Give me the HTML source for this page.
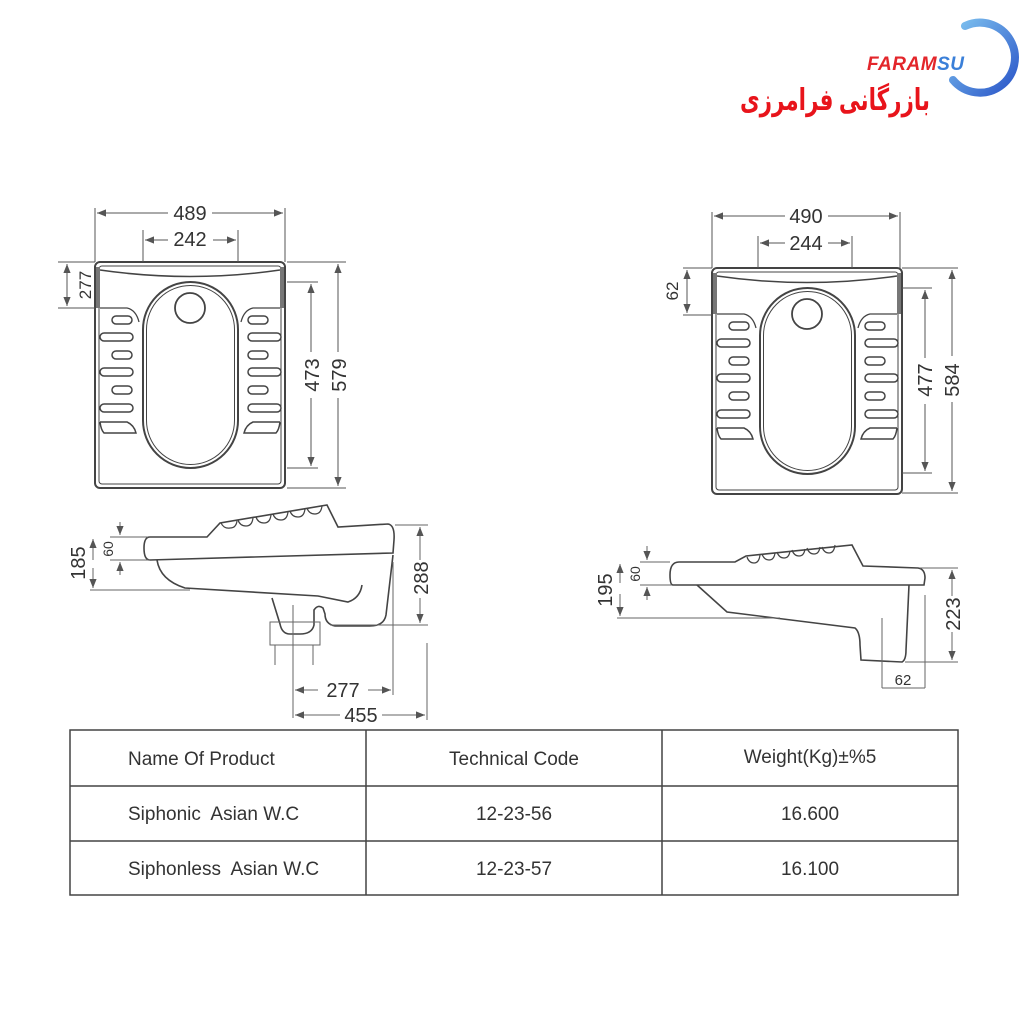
<!DOCTYPE html>
<html><head><meta charset="utf-8"><style>
html,body{margin:0;padding:0;background:#fff;}
svg{display:block}
text{font-family:"Liberation Sans",Arial,sans-serif;fill:#333}
</style></head><body>
<svg width="1024" height="1024" viewBox="0 0 1024 1024" xmlns="http://www.w3.org/2000/svg">
<defs>
<marker id="a" viewBox="0 0 10 10" refX="10" refY="5" markerWidth="9" markerHeight="9" orient="auto-start-reverse" markerUnits="userSpaceOnUse"><path d="M0 1 L10 5 L0 9 Z" fill="#555"/></marker>
<linearGradient id="bl" x1="0" y1="0" x2="1" y2="1"><stop offset="0" stop-color="#7fc3f0"/><stop offset="1" stop-color="#2a55c8"/></linearGradient>
<g id="top" fill="none" stroke="#444">
<rect x="95" y="262" width="190" height="226" rx="5" stroke-width="2"/>
<rect x="99" y="266" width="182" height="218" rx="3" stroke-width="1"/>
<path d="M100 270 Q190 283 280 270" stroke-width="1.5"/>
<rect x="96" y="267" width="4" height="41" fill="#777" stroke="none"/>
<rect x="280" y="267" width="4" height="41" fill="#777" stroke="none"/>
<path d="M100 308 L127 308 Q136 310 139 322" stroke-width="1.3"/>
<path d="M280 308 L253 308 Q244 310 241 322" stroke-width="1.3"/>
<rect x="143" y="282" width="95" height="186" rx="47.5" stroke-width="2"/>
<rect x="146.5" y="285.5" width="88" height="179" rx="44" stroke-width="1"/>
<circle cx="190" cy="308" r="15" stroke-width="1.8"/>
<g stroke-width="1.5">
<rect x="112" y="316" width="20" height="8" rx="4"/><rect x="100" y="333" width="33" height="8" rx="4"/>
<rect x="112" y="351" width="20" height="8" rx="4"/><rect x="100" y="368" width="33" height="8" rx="4"/>
<rect x="112" y="386" width="20" height="8" rx="4"/><rect x="100" y="404" width="33" height="8" rx="4"/>
<rect x="248" y="316" width="20" height="8" rx="4"/><rect x="248" y="333" width="33" height="8" rx="4"/>
<rect x="248" y="351" width="20" height="8" rx="4"/><rect x="248" y="368" width="33" height="8" rx="4"/>
<rect x="248" y="386" width="20" height="8" rx="4"/><rect x="248" y="404" width="33" height="8" rx="4"/>
<path d="M100 422 L127 422 Q134 425 136 433 L104 433 Q101 430 100 422"/>
<path d="M280 422 L253 422 Q246 425 244 433 L276 433 Q279 430 280 422"/>
</g>
</g>
</defs>

<!-- logo -->
<path d="M965 26 A35 35 0 1 1 953 80" fill="none" stroke="url(#bl)" stroke-width="8" stroke-linecap="round"/>
<text x="867" y="70" font-size="19" font-weight="bold" font-style="italic" style="fill:#e3262b;letter-spacing:0.5px">FARAM<tspan style="fill:#3a7fd8">SU</tspan></text>
<text x="740" y="110" font-size="30" font-weight="bold" textLength="190" lengthAdjust="spacingAndGlyphs" style="fill:#e8141b;font-family:'Liberation Serif','DejaVu Sans',serif">بازرگانی فرامرزی</text>

<!-- left top view -->
<use href="#top"/>
<g stroke="#555" stroke-width="1" fill="none">
<path d="M95 208 V262 M285 208 V262 M143 230 V262 M238 230 V262"/>
<path d="M168 213 H97" marker-end="url(#a)"/><path d="M212 213 H283" marker-end="url(#a)"/>
<path d="M168 240 H145" marker-end="url(#a)"/><path d="M213 240 H236" marker-end="url(#a)"/>
<path d="M58 262 H95 M58 308 H95"/>
<path d="M67 285 V264" marker-end="url(#a)"/><path d="M67 285 V306" marker-end="url(#a)"/>
<path d="M287 282 H318 M287 468 H318 M287 262 H346 M287 488 H346"/>
<path d="M311 352 V284" marker-end="url(#a)"/><path d="M311 398 V466" marker-end="url(#a)"/>
<path d="M338 352 V264" marker-end="url(#a)"/><path d="M338 398 V486" marker-end="url(#a)"/>
</g>
<g font-size="20" text-anchor="middle">
<text x="190" y="220">489</text><text x="190" y="246">242</text>
<text transform="translate(91,285) rotate(-90)" font-size="17">277</text>
<text transform="translate(319,375) rotate(-90)">473</text>
<text transform="translate(346,375) rotate(-90)">579</text>
</g>

<!-- right top view -->
<use href="#top" transform="translate(617,6)"/>
<g stroke="#555" stroke-width="1" fill="none">
<path d="M712 212 V268 M900 212 V268 M758 236 V268 M852 236 V268"/>
<path d="M785 216 H714" marker-end="url(#a)"/><path d="M828 216 H898" marker-end="url(#a)"/>
<path d="M785 243 H760" marker-end="url(#a)"/><path d="M828 243 H850" marker-end="url(#a)"/>
<path d="M683 268 H712 M683 315 H712"/>
<path d="M687 291 V270" marker-end="url(#a)"/><path d="M687 291 V313" marker-end="url(#a)"/>
<path d="M902 288 H932 M902 473 H932 M902 268 H958 M902 493 H958"/>
<path d="M925 358 V290" marker-end="url(#a)"/><path d="M925 404 V471" marker-end="url(#a)"/>
<path d="M952 356 V270" marker-end="url(#a)"/><path d="M952 402 V491" marker-end="url(#a)"/>
</g>
<g font-size="20" text-anchor="middle">
<text x="806" y="223">490</text><text x="806" y="250">244</text>
<text transform="translate(678,291) rotate(-90)" font-size="17">62</text>
<text transform="translate(932,380) rotate(-90)">477</text>
<text transform="translate(959,380) rotate(-90)">584</text>
</g>

<!-- left side view -->
<g fill="none" stroke="#444" stroke-width="1.6">
<path d="M150 537 L207 537 L220 523 L327 505 L338 527 L388 524 Q395 525 394 540 L393 553 L150 560 Q144 560 144 548 Q144 537 150 537 Z"/>
<path d="M157 560 Q160 580 185 588 L318 596 L348 602 Q360 598 362 585"/>
<path d="M393 555 L386 615 Q384 626 370 626 L335 626 Q325 624 325 614 L323 608 Q318 604 314 610 L314 625 Q312 634 300 634 L290 634 Q282 634 280 624 L272 598"/>
<path d="M221 523 Q224 529 230 528 Q236 528 237 521 M238 520 Q240 526 246 526 Q252 526 253 518 M256 517 Q258 523 264 523 Q270 523 271 515 M273 514 Q275 520 281 520 Q287 520 288 512 M290 511 Q292 517 298 517 Q304 517 305 509 M307 508 Q309 514 315 514 Q321 514 322 506" stroke-width="1.2"/>
</g>
<g stroke="#666" stroke-width="1" fill="none">
<rect x="270" y="622" width="50" height="23"/>
<path d="M275 645 V665 M313 645 V665 M293 605 V718"/>
<path d="M110 537 H148 M110 560 H150 M90 590 H190 M395 525 H428 M330 625 H428 M393 562 V695 M427 643 V720"/>
<path d="M120 522 V535" marker-end="url(#a)"/><path d="M120 575 V562" marker-end="url(#a)"/>
<path d="M93 560 V539" marker-end="url(#a)"/><path d="M93 568 V588" marker-end="url(#a)"/>
<path d="M420 560 V527" marker-end="url(#a)"/><path d="M420 598 V623" marker-end="url(#a)"/>
<path d="M318 690 H295" marker-end="url(#a)"/><path d="M368 690 H391" marker-end="url(#a)"/>
<path d="M340 715 H295" marker-end="url(#a)"/><path d="M382 715 H425" marker-end="url(#a)"/>
</g>
<g font-size="20" text-anchor="middle">
<text transform="translate(85,563) rotate(-90)">185</text>
<text transform="translate(113,549) rotate(-90)" font-size="14">60</text>
<text transform="translate(428,578) rotate(-90)">288</text>
<text x="343" y="697">277</text><text x="361" y="722">455</text>
</g>

<!-- right side view -->
<g fill="none" stroke="#444" stroke-width="1.6">
<path d="M679 562 L735 562 L746 556 L852 545 L863 566 L918 568 Q925 569 925 578 L924 585 L673 585 Q670 585 670 575 Q670 562 679 562 Z"/>
<path d="M697 585 L727 612 L855 628 Q860 632 860 645 L861 660 L902 662 Q906 660 906 650 L909 585"/>
<path d="M747 557 Q749 563 754 563 Q759 563 760 555 M762 554 Q764 560 769 560 Q774 560 775 553 M777 552 Q779 558 784 558 Q789 558 790 551 M792 550 Q794 556 799 556 Q804 556 805 549 M807 548 Q809 554 814 554 Q819 554 820 547 M822 547 Q824 553 829 553 Q834 553 835 545" stroke-width="1.2"/>
</g>
<g stroke="#666" stroke-width="1" fill="none">
<path d="M640 562 H670 M640 585 H672 M617 618 H780 M920 568 H958 M905 662 H958 M882 618 V688 M925 595 V688 M882 688 H925"/>
<path d="M647 546 V560" marker-end="url(#a)"/><path d="M647 600 V587" marker-end="url(#a)"/>
<path d="M620 583 V564" marker-end="url(#a)"/><path d="M620 594 V616" marker-end="url(#a)"/>
<path d="M952 596 V570" marker-end="url(#a)"/><path d="M952 632 V660" marker-end="url(#a)"/>
</g>
<g font-size="20" text-anchor="middle">
<text transform="translate(612,590) rotate(-90)">195</text>
<text transform="translate(640,574) rotate(-90)" font-size="14">60</text>
<text transform="translate(960,614) rotate(-90)">223</text>
<text x="903" y="685" font-size="15">62</text>
</g>

<!-- table -->
<g stroke="#444" stroke-width="1.5" fill="none">
<rect x="70" y="730" width="888" height="165"/>
<path d="M70 786 H958 M70 841 H958 M366 730 V895 M662 730 V895"/>
</g>
<g font-size="19" style="fill:#222">
<text x="128" y="765">Name Of Product</text>
<text x="128" y="820">Siphonic&#160; Asian W.C</text>
<text x="128" y="875">Siphonless&#160; Asian W.C</text>
<text x="514" y="765" text-anchor="middle">Technical Code</text>
<text x="514" y="820" text-anchor="middle">12-23-56</text>
<text x="514" y="875" text-anchor="middle">12-23-57</text>
<text x="810" y="763" text-anchor="middle">Weight(Kg)±%5</text>
<text x="810" y="820" text-anchor="middle">16.600</text>
<text x="810" y="875" text-anchor="middle">16.100</text>
</g>
</svg>
</body></html>
